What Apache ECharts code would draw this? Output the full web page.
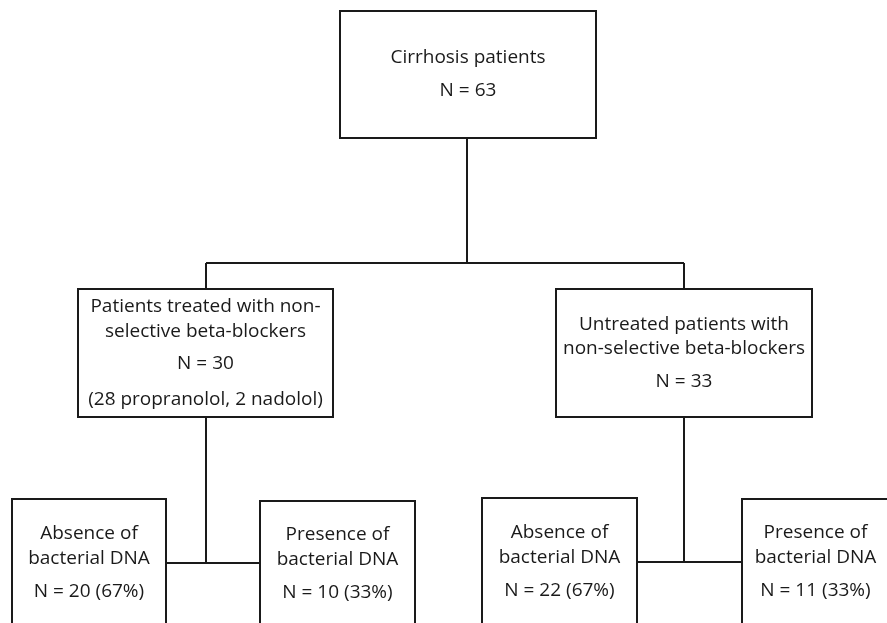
<!DOCTYPE html>
<html>
<head>
<meta charset="utf-8">
<script src="https://cdn.jsdelivr.net/npm/echarts@6/dist/echarts.min.js"></script>
<style>
  html, body { margin: 0; padding: 0; background: #ffffff; }
  #chart { width: 887px; height: 623px; }
</style>
</head>
<body>
<div id="chart"></div>
<script>
// ---- Data ----
const nodeTitles = [
  "Cirrhosis patients",
  "Patients treated with non-\nselective beta-blockers",
  "Untreated patients with\nnon-selective beta-blockers",
  "Absence of\nbacterial DNA",
  "Presence of\nbacterial DNA",
  "Absence of\nbacterial DNA",
  "Presence of\nbacterial DNA"
];
const nodeCounts = [63, 30, 33, 20, 10, 22, 11];
const nodePercents = [null, null, null, 67, 33, 67, 33];
const nodeNotes = ["", "(28 propranolol, 2 nadolol)", "", "", "", "", ""];
const edges = [[0, 1], [0, 2], [1, 3], [1, 4], [2, 5], [2, 6]];

// ---- Layout (pixel space of the drawing) ----
const boxLayout = [
  [340, 11, 596, 138],
  [78, 289, 333, 417],
  [556, 289, 812, 417],
  [12, 499, 166, 640],
  [260, 501, 415, 640],
  [482, 498, 637, 640],
  [742, 499, 889, 640]
];
const lineYs = [
  [58, 91],
  [307, 332, 364, 400],
  [325, 349, 382],
  [534, 559, 592],
  [535, 560, 593],
  [533, 558, 591],
  [533, 558, 591]
];
const connectorPaths = [
  [[467, 138], [467, 263]],
  [[206, 263], [684, 263]],
  [[206, 263], [206, 289]],
  [[684, 263], [684, 289]],
  [[206, 417], [206, 563]],
  [[166, 563], [260, 563]],
  [[684, 417], [684, 562]],
  [[637, 562], [742, 562]]
];

function nodeLines(i) {
  const lines = nodeTitles[i].split("\n");
  let n = "N = " + nodeCounts[i];
  if (nodePercents[i] !== null) n += " (" + nodePercents[i] + "%)";
  lines.push(n);
  if (nodeNotes[i]) lines.push(nodeNotes[i]);
  return lines;
}

const FONT = "'Open Sans'";
const FS = 19;
const INK = "#1a1a1a";

const boxData = boxLayout.map((b, i) => ({ value: [b[0], b[1], b[2], b[3], i] }));

const chart = echarts.init(document.getElementById("chart"), null, { renderer: "canvas" });
chart.setOption({
  animation: false,
  backgroundColor: "#ffffff",
  grid: { left: 0, right: 0, top: 0, bottom: 0 },
  xAxis: { type: "value", min: 0, max: 887, show: false },
  yAxis: { type: "value", min: 0, max: 623, inverse: true, show: false },
  series: [
    {
      type: "lines",
      coordinateSystem: "cartesian2d",
      polyline: true,
      silent: true,
      lineStyle: { color: INK, width: 2, opacity: 1 },
      data: connectorPaths.map(p => ({ coords: p })),
      z: 1
    },
    {
      type: "custom",
      coordinateSystem: "cartesian2d",
      silent: true,
      z: 2,
      data: boxData,
      renderItem: function (params, api) {
        const p0 = api.coord([api.value(0), api.value(1)]);
        const p1 = api.coord([api.value(2), api.value(3)]);
        const idx = api.value(4);
        const lines = nodeLines(idx);
        const cx = (p0[0] + p1[0]) / 2;
        const children = [{
          type: "rect",
          shape: { x: p0[0], y: p0[1], width: p1[0] - p0[0], height: p1[1] - p0[1] },
          style: { fill: "#ffffff", stroke: INK, lineWidth: 2 }
        }];
        lines.forEach((t, k) => {
          const yy = api.coord([0, lineYs[idx][k]])[1];
          children.push({
            type: "text",
            style: {
              text: t, x: cx, y: yy, align: "center", verticalAlign: "middle",
              font: FS + "px " + FONT, fill: INK
            }
          });
        });
        return { type: "group", children: children };
      }
    }
  ]
});
</script>
</body>
</html>
